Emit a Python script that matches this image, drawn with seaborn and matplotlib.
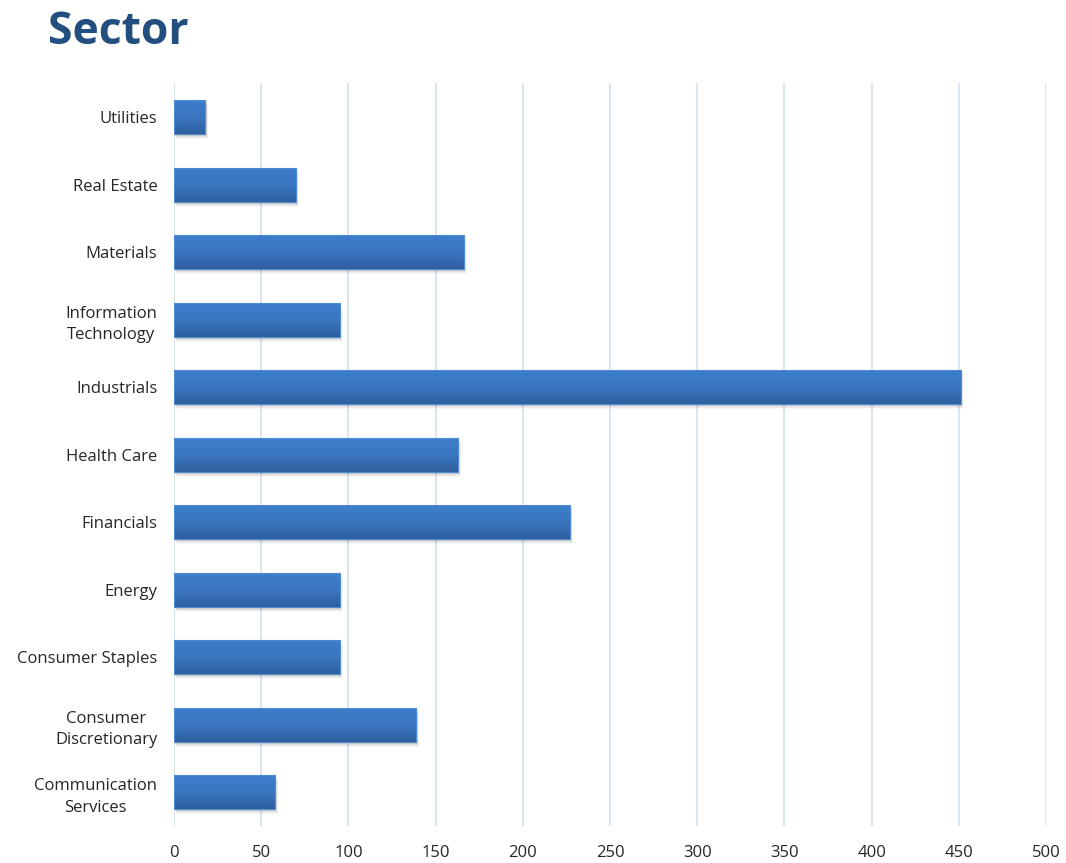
import numpy as np
import pandas as pd
import matplotlib
matplotlib.use("Agg")
import matplotlib.pyplot as plt
from matplotlib.patches import Rectangle
from matplotlib.colors import LinearSegmentedColormap
import seaborn as sns

# Company counts per sector (top to bottom)
sectors = [
    "Utilities",
    "Real Estate",
    "Materials",
    "Information\nTechnology",
    "Industrials",
    "Health Care",
    "Financials",
    "Energy",
    "Consumer Staples",
    "Consumer\nDiscretionary",
    "Communication\nServices",
]
counts = [18, 70, 166, 95, 451, 163, 227, 95, 95, 139, 58]
x_ticks = [0, 50, 100, 150, 200, 250, 300, 350, 400, 450, 500]

df = pd.DataFrame({"sector": sectors, "count": counts})

sns.set_theme(style="white")
plt.rcParams["font.family"] = ["Open Sans", "DejaVu Sans"]

fig = plt.figure(figsize=(10.66, 8.63), dpi=100)
ax = fig.add_axes([174 / 1066, 1 - 826 / 863, (1046 - 174) / 1066, (826 - 83.5) / 863])

sns.barplot(data=df, x="count", y="sector", order=sectors, orient="h",
            width=0.5, color="#3a76c0", ax=ax, zorder=3)

ax.set_xlim(0, 500)
ylim = ax.get_ylim()

# Vertical gradient fill plus a soft drop shadow under each bar
grad_cmap = LinearSegmentedColormap.from_list("bar", ["#3d7ecb", "#3a76c1", "#2f609e"])
grad = np.linspace(0, 1, 64).reshape(-1, 1)
px_y = (ylim[0] - ylim[1]) / 742.5
px_x = 500 / 872.0
for p in list(ax.patches):
    x0, y0 = p.get_x(), p.get_y()
    w, h = p.get_width(), p.get_height()
    for k, a in zip([1, 2, 3, 4, 5], [0.10, 0.08, 0.06, 0.04, 0.03]):
        ax.add_patch(Rectangle((x0 + k * 0.6 * px_x, y0 + k * px_y), w, h,
                               facecolor="#000000", edgecolor="none",
                               alpha=a, zorder=2))
    im = ax.imshow(grad, cmap=grad_cmap, aspect="auto",
                   extent=[x0, x0 + w, y0 + h, y0], zorder=3.5,
                   interpolation="bilinear")
    im.set_clip_path(p)
    p.set_edgecolor("#4f8bd3")
    p.set_linewidth(0.8)
    p.set_zorder(3.6)
    p.set_facecolor("none")

ax.set_ylim(ylim)
ax.set_xlim(0, 500)
ax.set_xticks(x_ticks)
ax.xaxis.grid(True, color="#d8e3f1", linewidth=1.3, zorder=0)
ax.yaxis.grid(False)
for s in ax.spines.values():
    s.set_visible(False)
ax.set_xlabel("")
ax.set_ylabel("")
ax.tick_params(axis="x", length=0, pad=14, labelsize=12, labelcolor="#262626")
ax.tick_params(axis="y", length=0, pad=12, labelsize=12, labelcolor="#262626")
for lbl in ax.get_yticklabels():
    lbl.set_multialignment("center")
    lbl.set_linespacing(1.45)

fig.text(48 / 1066, 1 - 33 / 863, "Sector", fontsize=32, fontweight="bold",
         color="#234e80", va="center", ha="left")

fig.savefig("out.png", dpi=100)
